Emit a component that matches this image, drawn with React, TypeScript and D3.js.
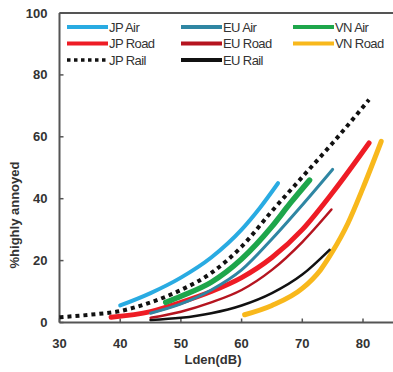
import React from "react";
import * as d3 from "d3";

const xTicks = [30, 40, 50, 60, 70, 80];
const yTicks = [0, 20, 40, 60, 80, 100];

const jpAir: [number, number][] = [[40, 5.5], [45, 9.5], [50, 14.5], [55, 21], [60, 30], [63, 37], [66, 45]];
const euAir: [number, number][] = [[45, 3], [50, 6], [55, 10.5], [60, 17], [65, 27], [70, 38], [75, 49.5]];
const vnAir: [number, number][] = [[47.5, 6.5], [50, 8.5], [55, 13], [60, 20.5], [65, 31], [68, 38.5], [71.2, 46]];
const jpRoad: [number, number][] = [[38.5, 1.7], [45, 3.5], [50, 6.5], [55, 10], [60, 14.5], [65, 21], [70, 30], [75, 42], [81, 58]];
const euRoad: [number, number][] = [[45, 1.5], [50, 3.5], [55, 6.5], [60, 10.5], [65, 17], [70, 26], [74.8, 36.5]];
const vnRoad: [number, number][] = [[60.5, 2.5], [65, 5.5], [70, 11], [73, 17], [75, 23], [77.5, 32], [80, 43.5], [83, 58.5]];
const jpRail: [number, number][] = [[30, 1.7], [35, 2.5], [40, 3.7], [45, 6.5], [50, 10.5], [55, 16], [60, 24.5], [65, 36], [70, 47], [75, 58], [81, 72]];
const euRail: [number, number][] = [[45, 0.8], [50, 1.5], [55, 3], [60, 5.5], [65, 9.5], [70, 15.5], [74.5, 23.5]];

const seriesNames = ["JP Air", "EU Air", "VN Air", "JP Road", "EU Road", "VN Road", "JP Rail", "EU Rail"];

type S = { name: string; data: [number, number][]; color: string; width: number; dash?: string };

const series: S[] = [
  { name: seriesNames[6], data: jpRail, color: "#111", width: 4, dash: "4,4" },
  { name: seriesNames[5], data: vnRoad, color: "#F8B81C", width: 5 },
  { name: seriesNames[7], data: euRail, color: "#111", width: 2.5 },
  { name: seriesNames[4], data: euRoad, color: "#B5141F", width: 2.5 },
  { name: seriesNames[3], data: jpRoad, color: "#EE1C25", width: 5 },
  { name: seriesNames[1], data: euAir, color: "#2F86A3", width: 3 },
  { name: seriesNames[2], data: vnAir, color: "#1EA64B", width: 5.5 },
  { name: seriesNames[0], data: jpAir, color: "#29ABE2", width: 4 },
];

const legendOrder = [
  ["JP Air", "EU Air", "VN Air"],
  ["JP Road", "EU Road", "VN Road"],
  ["JP Rail", "EU Rail"],
];

export default function App() {
  const W = 393, H = 372;
  const left = 59.5, top = 13, bottom = 322.5, right = 393;
  const x = d3.scaleLinear().domain([30, 80]).range([left, left + 50 * 6.07]);
  const y = d3.scaleLinear().domain([0, 100]).range([bottom, top]);
  const line = d3.line<[number, number]>().x(d => x(d[0])).y(d => y(d[1])).curve(d3.curveMonotoneX);
  const byName: Record<string, S> = {};
  series.forEach(s => (byName[s.name] = s));
  const colX = [67, 181, 293];
  const rowY = [27, 43.5, 60];
  const font = "Arial, 'Liberation Sans', sans-serif";
  const axisColor = "#555";

  return (
    <svg width={W} height={H} style={{ position: "absolute", left: 0, top: 0, background: "#fff" }}>
      <line x1={left} x2={right} y1={top} y2={top} stroke={axisColor} strokeWidth={2} />
      <line x1={left} x2={left} y1={top} y2={bottom} stroke={axisColor} strokeWidth={2} />
      <line x1={left} x2={right} y1={bottom} y2={bottom} stroke={axisColor} strokeWidth={2} />
      {yTicks.map(t => (
        <g key={"y" + t}>
          <line x1={left} x2={left + 4} y1={y(t)} y2={y(t)} stroke={axisColor} strokeWidth={1.5} />
          <text x={left - 12} y={y(t)} dy="0.35em" textAnchor="end" fontFamily={font} fontWeight="bold" fontSize={13} fill="#333">{t}</text>
        </g>
      ))}
      {xTicks.map(t => (
        <g key={"x" + t}>
          <line x1={x(t)} x2={x(t)} y1={bottom} y2={bottom - 4} stroke={axisColor} strokeWidth={1.5} />
          <text x={x(t)} y={bottom + 25} textAnchor="middle" fontFamily={font} fontWeight="bold" fontSize={13} fill="#333">{t}</text>
        </g>
      ))}
      <text x={213} y={364} textAnchor="middle" fontFamily={font} fontWeight="bold" fontSize={13} fill="#333">Lden(dB)</text>
      <text transform="translate(19,215) rotate(-90)" textAnchor="middle" fontFamily={font} fontWeight="bold" fontSize={13} fill="#333">%highly annoyed</text>

      {series.map(s => (
        <path key={s.name} d={line(s.data) || ""} fill="none" stroke={s.color} strokeWidth={s.width} strokeDasharray={s.dash} strokeLinecap={s.dash ? "butt" : "round"} />
      ))}

      {legendOrder.map((row, ri) =>
        row.map((name, ci) => {
          const s = byName[name];
          const lx = colX[ci];
          const ly = rowY[ri];
          return (
            <g key={name}>
              <line x1={lx} x2={lx + 41} y1={ly} y2={ly} stroke={s.color} strokeWidth={s.dash ? 3.5 : 4} strokeDasharray={s.dash ? "3.5,3.5" : undefined} />
              <text x={lx + 42} y={ly} dy="0.35em" fontFamily={font} fontSize={13} fill="#333" letterSpacing={-0.6}>{name}</text>
            </g>
          );
        })
      )}
    </svg>
  );
}
